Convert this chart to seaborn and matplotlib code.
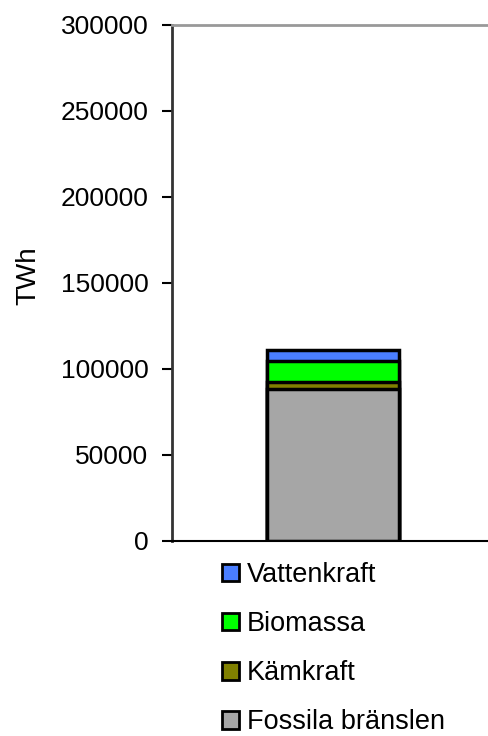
import seaborn as sns
import matplotlib.pyplot as plt
from matplotlib.patches import Patch
import pandas as pd

# energy sources, stacked bottom to top
sources = ["Fossila bränslen", "Kämkraft", "Biomassa", "Vattenkraft"]
values = [88500, 4200, 11900, 6400]
colors = ["#a6a6a6", "#808000", "#00ff00", "#4a7eff"]
yticks = [0, 50000, 100000, 150000, 200000, 250000, 300000]

sns.set_style("white")
plt.rcParams['font.family'] = ['Liberation Sans', 'DejaVu Sans']
plt.rcParams['text.color'] = 'black'
plt.rcParams['axes.labelcolor'] = 'black'
plt.rcParams['ytick.color'] = 'black'

fig = plt.figure(figsize=(4.88, 7.36), dpi=100)
ax = fig.add_axes([172 / 488, 195 / 736, 322 / 488, 516 / 736])

# cumulative totals, drawn tallest first so later bars cover the lower part
cum = pd.Series(values).cumsum().tolist()
for total, col in reversed(list(zip(cum, colors))):
    df = pd.DataFrame({"x": [""], "y": [total]})
    sns.barplot(data=df, x="x", y="y", color=col, saturation=1, width=0.41,
                edgecolor="black", linewidth=2.5, ax=ax)

ax.set_ylim(0, 300000)
ax.set_xlim(-0.5, 0.5)
ax.set_yticks(yticks)
ax.set_yticklabels([str(v) for v in yticks])
ax.set_xticks([])
ax.set_xlabel("")
ax.set_ylabel("TWh", fontsize=20)
ax.yaxis.set_label_coords(-0.405, 0.514)
ax.tick_params(axis="y", left=True, length=7, width=1.5, pad=10,
               labelsize=19, color="black", labelcolor="black")

ax.spines["left"].set_color("#333333")
ax.spines["left"].set_linewidth(2)
ax.spines["top"].set_color("#999999")
ax.spines["top"].set_linewidth(2)
ax.spines["bottom"].set_color("black")
ax.spines["bottom"].set_linewidth(1.5)
ax.spines["right"].set_visible(False)

handles = [Patch(facecolor=c, edgecolor="black", linewidth=2, label=s)
           for s, c in zip(sources, colors)][::-1]
fig.legend(handles=handles, loc="upper left",
           bbox_to_anchor=(222 / 488, 1 - 562 / 736), frameon=False,
           fontsize=19.5, handlelength=0.62, handleheight=0.62,
           handletextpad=0.3, labelspacing=0.855, borderpad=0, borderaxespad=0)

plt.savefig("out.png", dpi=100)
